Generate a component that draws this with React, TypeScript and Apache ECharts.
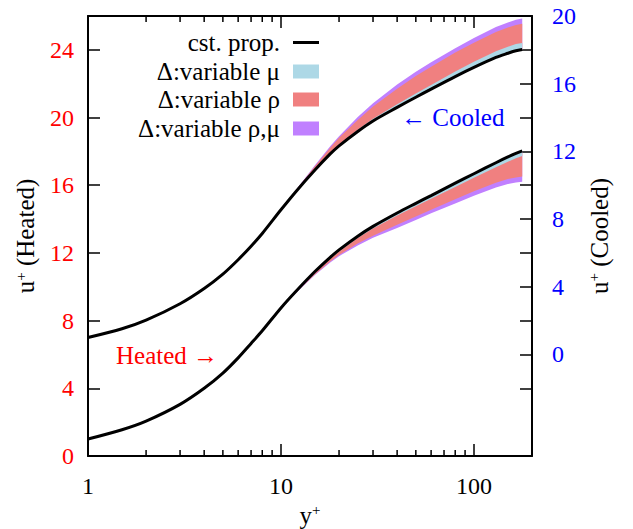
import React, { useEffect, useRef } from 'react';
import * as echarts from 'echarts';

const FONT = 'Liberation Serif';

// wall distance y+ at which curves were read
const yPlus = [1, 1.5, 2, 3, 4, 5, 6, 7, 8, 10, 12, 15, 18, 20, 25, 30, 40, 50, 60, 80, 100, 130, 150, 165, 178];
// constant-property u+ profiles
const heatedCst = [1.0, 1.55, 2.06, 3.05, 4.0, 4.9, 5.8, 6.65, 7.4, 8.75, 9.75, 10.9, 11.74, 12.18, 12.99, 13.57, 14.36, 14.93, 15.39, 16.12, 16.68, 17.33, 17.67, 17.88, 18.03];
const cooledCst = [1.0, 1.52, 2.03, 3.0, 3.9, 4.75, 5.6, 6.4, 7.15, 8.55, 9.65, 10.9, 11.85, 12.33, 13.18, 13.8, 14.6, 15.2, 15.68, 16.42, 16.96, 17.55, 17.8, 17.95, 18.02];
// heated: reduction of u+ relative to constant properties
const heatedDMu = [0, 0, 0, 0, 0, 0.02, 0.03, 0.04, 0.05, 0.06, 0.07, 0.08, 0.09, 0.1, 0.11, 0.13, 0.15, 0.17, 0.19, 0.22, 0.24, 0.27, 0.28, 0.29, 0.3];
const heatedDRho = [0, 0, 0, 0, 0, 0, 0, 0, 0, 0.02, 0.08, 0.17, 0.25, 0.3, 0.44, 0.55, 0.7, 0.78, 0.84, 0.95, 1.03, 1.18, 1.3, 1.42, 1.52];
const heatedDRhoMu = [0, 0, 0, 0, 0, 0, 0, 0, 0, 0.03, 0.1, 0.2, 0.3, 0.37, 0.55, 0.68, 0.88, 0.98, 1.05, 1.2, 1.3, 1.46, 1.6, 1.72, 1.82];
// cooled: increase of u+ relative to constant properties
const cooledDMu = [0, 0, 0, 0, 0, 0, 0, 0, 0, 0, 0.02, 0.04, 0.06, 0.07, 0.1, 0.13, 0.18, 0.22, 0.25, 0.3, 0.33, 0.36, 0.38, 0.39, 0.39];
const cooledDRho = [0, 0, 0, 0, 0, 0, 0, 0, 0, 0, 0.08, 0.22, 0.37, 0.47, 0.68, 0.85, 1.1, 1.25, 1.32, 1.42, 1.46, 1.5, 1.52, 1.52, 1.52];
const cooledDRhoMu = [0, 0, 0, 0, 0, 0, 0, 0, 0, 0, 0.1, 0.28, 0.45, 0.57, 0.85, 1.05, 1.35, 1.5, 1.58, 1.68, 1.74, 1.8, 1.82, 1.83, 1.83];

const xMinorTicks = [2, 3, 4, 5, 6, 7, 8, 9, 20, 30, 40, 50, 60, 70, 80, 90];
const leftLabels = [0, 4, 8, 12, 16, 20, 24];
const rightTicks = [-2, 0, 2, 4, 6, 8, 10, 12, 14, 16, 18, 20];
const rightLabels = [0, 4, 8, 12, 16, 20];

const NAME_CST = 'cst. prop.';
const NAME_MU = 'Δ:variable μ';
const NAME_RHO = 'Δ:variable ρ';
const NAME_RHOMU = 'Δ:variable ρ,μ';
const C_MU = '#add8e6';
const C_RHO = '#f08080';
const C_RHOMU = '#c080ff';

function band(name: string, color: string, cst: number[], delta: number[], sign: number, yAxisIndex: number, z: number) {
  const data = yPlus.map((x, i) => [x, cst[i], cst[i] + sign * delta[i]]);
  return {
    type: 'custom',
    name,
    coordinateSystem: 'cartesian2d',
    xAxisIndex: 0,
    yAxisIndex,
    z,
    silent: true,
    itemStyle: { color },
    encode: { x: 0, y: [1, 2] },
    data,
    renderItem: (params: any, api: any) => {
      if (params.dataIndex !== 0) return null;
      const top = data.map((d) => api.coord([d[0], d[1]]));
      const bot = data.map((d) => api.coord([d[0], d[2]])).reverse();
      return { type: 'polygon', shape: { points: top.concat(bot) }, style: { fill: color } };
    },
  };
}

function cstLine(values: number[], yAxisIndex: number) {
  return {
    type: 'line',
    name: NAME_CST,
    xAxisIndex: 0,
    yAxisIndex,
    z: 5,
    silent: true,
    showSymbol: false,
    smooth: 0.3,
    data: yPlus.map((x, i) => [x, values[i]]),
    lineStyle: { color: '#000', width: 3 },
    itemStyle: { color: '#000' },
  };
}

const TXT = 25;
const supName = (base: string, rest: string) => `{b|${base}}{s|+}${rest}`;
const nameStyle = {
  fontSize: TXT,
  fontFamily: FONT,
  color: '#000',
  rich: {
    b: { fontSize: TXT, fontFamily: FONT, color: '#000' },
    s: { fontSize: 15, fontFamily: FONT, color: '#000', verticalAlign: 'top' },
  },
};

const tickLine = { color: '#000', width: 1.5 };
const axisLine = { show: true, onZero: false, lineStyle: { color: '#000', width: 2 } };

export default function App() {
  const ref = useRef<HTMLDivElement>(null);
  useEffect(() => {
    document.body.style.margin = '0';
    const chart = echarts.init(ref.current!, undefined, { renderer: 'svg' });
    const legendRows = [
      { name: NAME_CST, center: 42, h: 3 },
      { name: NAME_MU, center: 71, h: 14 },
      { name: NAME_RHO, center: 99, h: 14 },
      { name: NAME_RHOMU, center: 128, h: 14 },
    ];
    chart.setOption({
      animation: false,
      backgroundColor: '#fff',
      grid: { left: 88, top: 16, width: 444, height: 440, containLabel: false, outerBoundsMode: 'none' },
      legend: legendRows.map((r) => ({
        data: [{ name: r.name, icon: 'rect' }],
        right: 314,
        top: r.center - 12,
        orient: 'horizontal',
        align: 'right',
        itemWidth: 26,
        itemHeight: r.h,
        padding: 0,
        selectedMode: false,
        textStyle: { fontSize: TXT, fontFamily: FONT, color: '#000', padding: [0, 8, 0, 0] },
      })),
      xAxis: [
        {
          type: 'log',
          logBase: 10,
          min: 1,
          max: 200,
          position: 'bottom',
          axisLine,
          axisTick: { inside: true, length: 12, lineStyle: tickLine },
          axisLabel: {
            color: '#000',
            fontSize: 24,
            fontFamily: FONT,
            margin: 18,
            showMaxLabel: false,
            formatter: (v: number) => ([1, 10, 100].includes(Math.round(v)) ? String(Math.round(v)) : ''),
          },
          splitLine: { show: false },
          name: supName('y', ''),
          nameLocation: 'middle',
          nameGap: 44,
          nameTextStyle: nameStyle,
        },
        {
          type: 'log',
          logBase: 10,
          min: 1,
          max: 200,
          position: 'top',
          axisLine,
          axisTick: { inside: true, length: 12, lineStyle: tickLine },
          axisLabel: { show: false },
          splitLine: { show: false },
        },
      ],
      yAxis: [
        {
          type: 'value',
          position: 'left',
          min: 0,
          max: 26,
          interval: 4,
          axisLine,
          axisTick: { inside: true, length: 12, lineStyle: tickLine },
          axisLabel: {
            color: '#ff0000',
            fontSize: 24,
            fontFamily: FONT,
            margin: 14,
            formatter: (v: number) => (leftLabels.includes(v) ? String(v) : ''),
          },
          splitLine: { show: false },
          name: supName('u', ' (Heated)'),
          nameLocation: 'middle',
          nameRotate: 90,
          nameGap: 50,
          nameTextStyle: nameStyle,
        },
        {
          type: 'value',
          position: 'right',
          min: -6,
          max: 20,
          interval: 2,
          axisLine,
          axisTick: { inside: true, length: 12, lineStyle: tickLine, customValues: rightTicks },
          axisLabel: {
            color: '#0000ff',
            fontSize: 24,
            fontFamily: FONT,
            margin: 20,
            customValues: rightLabels,
            formatter: (v: number) => (rightLabels.includes(v) ? String(v) : ''),
          },
          splitLine: { show: false },
          name: supName('u', ' (Cooled)'),
          nameLocation: 'middle',
          nameRotate: 90,
          nameGap: 52,
          nameTextStyle: nameStyle,
        },
      ],
      graphic: [
        { type: 'text', left: 116, top: 343, style: { text: 'Heated →', font: `${TXT}px "${FONT}"`, fill: '#ff0000' } },
        { type: 'text', left: 401, top: 105, style: { text: '← Cooled', font: `${TXT}px "${FONT}"`, fill: '#0000ff' } },
      ],
      series: [
        band(NAME_RHOMU, C_RHOMU, heatedCst, heatedDRhoMu, -1, 0, 1),
        band(NAME_RHO, C_RHO, heatedCst, heatedDRho, -1, 0, 2),
        band(NAME_MU, C_MU, heatedCst, heatedDMu, -1, 0, 3),
        band(NAME_RHOMU, C_RHOMU, cooledCst, cooledDRhoMu, 1, 1, 1),
        band(NAME_RHO, C_RHO, cooledCst, cooledDRho, 1, 1, 2),
        band(NAME_MU, C_MU, cooledCst, cooledDMu, 1, 1, 3),
        cstLine(heatedCst, 0),
        cstLine(cooledCst, 1),
        {
          type: 'custom',
          coordinateSystem: 'cartesian2d',
          xAxisIndex: 0,
          yAxisIndex: 0,
          z: 10,
          silent: true,
          clip: false,
          encode: { x: 0, y: 1 },
          data: xMinorTicks.map((v) => [v, 0]),
          renderItem: (params: any, api: any) => {
            const x = api.coord([api.value(0), 0])[0];
            const cs = params.coordSys;
            const bottom = cs.y + cs.height;
            const st = { stroke: '#000', lineWidth: 1.5 };
            return {
              type: 'group',
              children: [
                { type: 'line', shape: { x1: x, y1: bottom, x2: x, y2: bottom - 6 }, style: st },
                { type: 'line', shape: { x1: x, y1: cs.y, x2: x, y2: cs.y + 6 }, style: st },
              ],
            };
          },
        },
      ],
    });
    return () => chart.dispose();
  }, []);
  return <div ref={ref} style={{ width: 633, height: 529 }} />;
}
